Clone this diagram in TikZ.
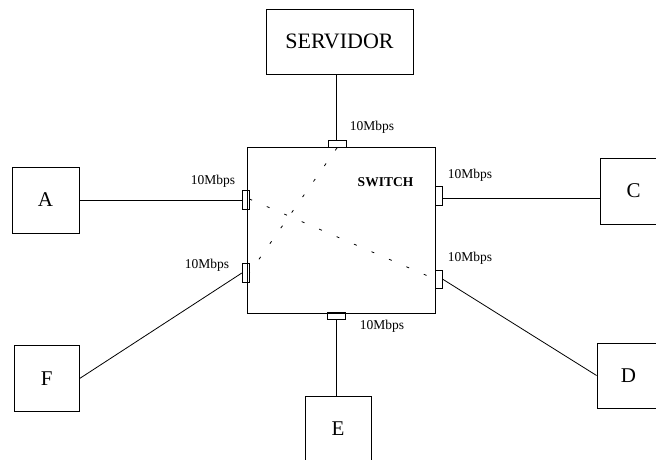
\documentclass[tikz,border=0pt]{standalone}
\usepackage{fontspec}
\setmainfont{Liberation Serif}
\begin{document}
\begin{tikzpicture}[x=1pt,y=-1pt,
  dev/.style={draw, line width=0.9pt, inner sep=0pt, font=\fontsize{21}{21}\selectfont},
  portbox/.style={draw, line width=0.8pt, inner sep=0pt},
  lbl/.style={inner sep=0pt, font=\fontsize{13.5}{13.5}\selectfont},
  link/.style={line width=0.8pt},
  dots/.style={line width=0.8pt, dash pattern=on 3pt off 16pt}
]
\useasboundingbox (0,0) rectangle (656,459);
\clip (0,0) rectangle (656,459);
% devices
\node[dev, minimum width=147pt, minimum height=65pt, font=\fontsize{22}{22}\selectfont] (serv) at (339.5,41.5) {SERVIDOR};
\node[dev, minimum width=67pt, minimum height=66pt] (A) at (45.5,200) {A};
\node[dev, minimum width=67pt, minimum height=66pt] (C) at (633.5,191) {C};
\node[dev, minimum width=63pt, minimum height=65pt] (D) at (628.5,375.5) {D};
\node[dev, minimum width=66pt, minimum height=66pt] (E) at (338,429) {E};
\node[dev, minimum width=65.5pt, minimum height=65.3pt] (F) at (46.75,378.3) {F};
% switch
\node[dev, minimum width=188.2pt, minimum height=165.3pt] (sw) at (341.6,230.3) {};
\node[inner sep=0pt, font=\fontsize{13.5}{13.5}\selectfont\bfseries] (swl) at (385.5,182.5) {SWITCH};
% ports
\node[portbox, minimum width=18pt, minimum height=7pt] (pT) at (337,144) {};
\node[portbox, minimum width=17.7pt, minimum height=6.3pt] (pB) at (336.2,316) {};
\node[portbox, minimum width=6.7pt, minimum height=18.6pt] (pA) at (245.6,200) {};
\node[portbox, minimum width=6.7pt, minimum height=18.6pt] (pF) at (245.6,273) {};
\node[portbox, minimum width=6.6pt, minimum height=18.3pt] (pC) at (439,196) {};
\node[portbox, minimum width=6.6pt, minimum height=18.3pt] (pD) at (439,279.2) {};
% labels
\node[lbl] (lT) at (372,127) {10Mbps};
\node[lbl] (lA) at (213,181) {10Mbps};
\node[lbl] (lF) at (207,265) {10Mbps};
\node[lbl] (lC) at (470,175) {10Mbps};
\node[lbl] (lD) at (470,258) {10Mbps};
\node[lbl] (lB) at (382,326) {10Mbps};
% links
\draw[link] ([xshift=-1pt]pT.north) -- ([xshift=-1pt]pT.north |- serv.south);
\draw[link] (A.east) -- (pA.west);
\draw[link] ([yshift=-2pt]pC.east) -- ([yshift=-2pt]pC.east -| C.west);
\draw[link] (pD.east) -- (D.west);
\draw[link] (pF.west) -- (F.east);
\draw[link] (pB.south) -- (pB.south |- E.north);
% internal dotted paths
\draw[dots] (pT.south) -- (pF.east);
\draw[dots] ([yshift=1pt]pA.east) -- (pD.west);
\end{tikzpicture}
\end{document}
